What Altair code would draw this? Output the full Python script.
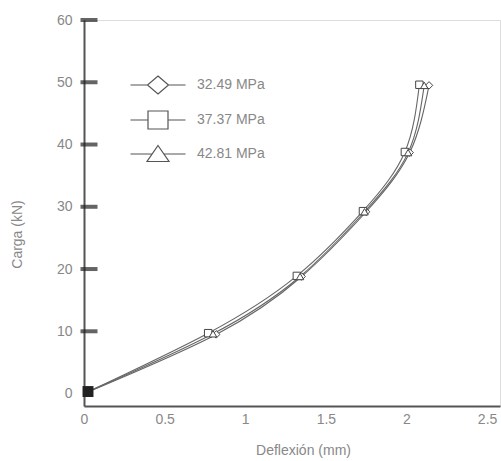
import altair as alt
import pandas as pd

series_names = ["32.49 MPa", "37.37 MPa", "42.81 MPa"]
x_diamond = [0, 0.82, 1.35, 1.75, 2.02, 2.14]
y_diamond = [0, 9.5, 18.8, 29.2, 38.7, 49.5]
x_square = [0, 0.77, 1.32, 1.73, 1.99, 2.08]
y_square = [0, 9.7, 18.9, 29.3, 38.8, 49.6]
x_triangle = [0, 0.80, 1.34, 1.74, 2.01, 2.11]
y_triangle = [0, 9.6, 18.8, 29.2, 38.7, 49.5]
y_ticks = [10, 20, 30, 40, 50, 60]
x_tick_labels = [0, 0.5, 1, 1.5, 2, 2.5]
y_tick_labels = [0, 10, 20, 30, 40, 50, 60]

rows = []
for name, xs, ys in zip(series_names, [x_diamond, x_square, x_triangle], [y_diamond, y_square, y_triangle]):
    for i, (xv, yv) in enumerate(zip(xs, ys)):
        rows.append({"serie": name, "x": xv, "y": yv, "i": i})
df = pd.DataFrame(rows)
ticks_df = pd.DataFrame({"t": y_ticks})

FONT = "Liberation Sans"
xs = alt.Scale(domain=[0, 2.58], nice=False, zero=False)
ys = alt.Scale(domain=[-2, 60], nice=False, zero=False)

xenc = alt.X("x:Q", scale=xs, axis=alt.Axis(
    title="Deflexión (mm)", values=x_tick_labels, ticks=False, grid=False,
    domainColor="#555", domainWidth=2, labelColor="#888", labelFontSize=14,
    labelFont=FONT, labelPadding=6, titleFont=FONT, titleFontSize=14,
    titleFontWeight="normal", titleColor="#888", titleX=219, titleY=44,
    titleBaseline="middle", labelFlush=False, format="~g"))
yenc = alt.Y("y:Q", scale=ys, axis=alt.Axis(
    title="Carga (kN)", values=y_tick_labels, ticks=False, grid=False,
    domainColor="#555", domainWidth=2, labelColor="#888", labelFontSize=14,
    labelFont=FONT, labelPadding=12, titleFont=FONT, titleFontSize=14,
    titleFontWeight="normal", titleColor="#888", titleX=-67, titleY=214,
    titleBaseline="middle", labelFlush=False))

base = alt.Chart(df)

lines = base.mark_line(interpolate="natural", color="#666", strokeWidth=1.1).encode(
    x=xenc, y=yenc, detail="serie:N")

pts = base.transform_filter("datum.i > 0").mark_point(
    filled=False, fill="white", fillOpacity=1, stroke="#444", strokeWidth=1, size=55, opacity=1
).encode(
    x="x:Q", y="y:Q",
    shape=alt.Shape("serie:N", scale=alt.Scale(domain=series_names, range=["diamond", "square", "triangle-up"]), legend=None))

legend_paths = [
    "M-2.75,0H-1.05M1.05,0H2.75M0,-0.9L1.05,0L0,0.9L-1.05,0Z",
    "M-2.75,0H-1M1,0H2.75M-1,-0.9H1V0.9H-1Z",
    "M-2.75,0H-0.6M0.6,0H2.75M0,-0.85L1.1,0.75L-1.1,0.75Z",
]
leg = base.transform_filter("datum.i > 0").mark_point(size=400, opacity=0).encode(
    x="x:Q", y="y:Q",
    shape=alt.Shape("serie:N", scale=alt.Scale(domain=series_names, range=legend_paths),
                    legend=alt.Legend(title=None, orient="none", legendX=63, legendY=54,
                                      symbolSize=400, symbolStrokeColor="#555", symbolFillColor="white",
                                      symbolStrokeWidth=1.2, symbolOpacity=1, labelOffset=28,
                                      labelColor="#888", labelFontSize=14, labelFont=FONT,
                                      rowPadding=11, padding=0)))

tick_layer = alt.Chart(ticks_df).mark_tick(color="#222", thickness=4, size=17, orient="horizontal").encode(
    y=alt.Y("t:Q"), x=alt.datum(0), xOffset=alt.value(5))

origin = alt.Chart(pd.DataFrame({"x": [0], "y": [0]})).mark_square(color="#222", size=120, opacity=1).encode(
    x="x:Q", y="y:Q", xOffset=alt.value(4), yOffset=alt.value(-2))

chart = alt.layer(lines, pts, leg, tick_layer, origin).resolve_scale(shape="independent").properties(
    width=416, height=386,
    autosize=alt.AutoSizeParams(type="none"),
    padding={"left": 84, "top": 20, "right": 1, "bottom": 55},
).configure_view(stroke=None).configure(background="white")

chart.save("out.html", embed_options={"renderer": "svg", "actions": False})
